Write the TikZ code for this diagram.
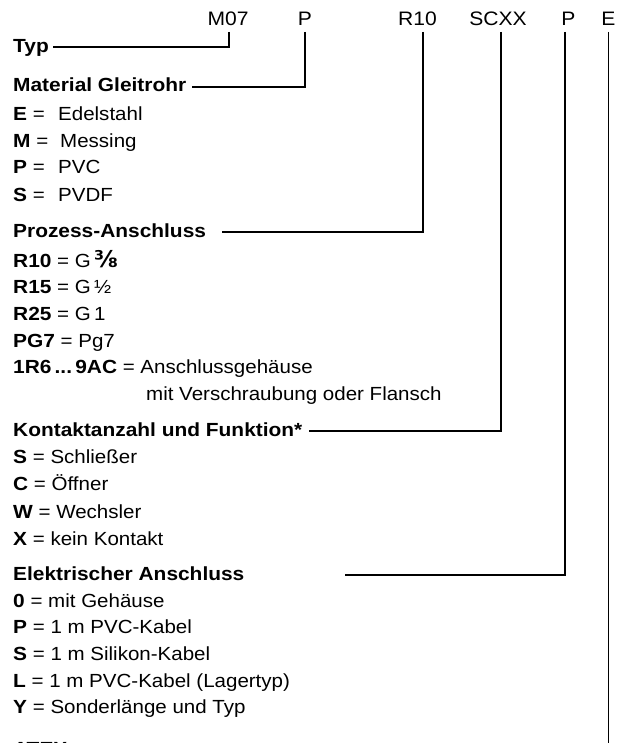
\documentclass[tikz,border=0pt]{standalone}
\usepackage{fontspec}
\setmainfont{Liberation Sans}[FakeStretch=1.08,BoldFeatures={FakeStretch=1.1}]
\newfontfamily\symfont{DejaVu Sans}
\begin{document}
\begin{tikzpicture}[x=1pt,y=1pt,
  lbl/.style={anchor=base west,inner sep=0pt,font=\fontsize{19}{23}\selectfont},
  head/.style={anchor=base west,inner sep=0pt,font=\fontsize{19}{23}\selectfont\bfseries},
  code/.style={anchor=base,inner sep=0pt,font=\fontsize{19.5}{23}\selectfont},
  conn/.style={line width=1.3pt}]
\useasboundingbox (0,0) rectangle (621,-743);
\clip (0,0) rectangle (621,-743);
% code
\node[code] (cM) at (228,-26) {M07};
\node[code] (cP) at (305,-26) {P};
\node[code] (cR) at (417.5,-26) {R10};
\node[code] (cS) at (498,-26) {SCXX};
\node[code] (cE) at (568.5,-26) {P};
\node[code] (cA) at (608.5,-26) {E};
% headings
\node[head] (typ) at (13,-53) {Typ};
\node[head] (mat) at (13,-92) {Material Gleitrohr};
\node[head] (pro) at (13,-237) {Prozess-Anschluss};
\node[head] (kon) at (13,-436) {Kontaktanzahl und Funktion*};
\node[head] (ele) at (13,-580) {Elektrischer Anschluss};
\node[head] (atex) at (13,-755) {ATEX};
% material
\node[lbl] (m1) at (13,-121) {\makebox[45pt][l]{\textbf{E} =}Edelstahl};
\node[lbl] (m2) at (13,-148) {\makebox[47pt][l]{\textbf{M} =}Messing};
\node[lbl] (m3) at (13,-174) {\makebox[45pt][l]{\textbf{P} =}PVC};
\node[lbl] (m4) at (13,-201) {\makebox[45pt][l]{\textbf{S} =}PVDF};
% prozess
\node[lbl] (p1) at (13,-267) {\textbf{R10} = G\,{\symfont\bfseries\fontsize{23}{23}\selectfont ⅜}};
\node[lbl] (p2) at (13,-293) {\textbf{R15} = G\,½};
\node[lbl] (p3) at (13,-320) {\textbf{R25} = G\,1};
\node[lbl] (p4) at (13,-347) {\textbf{PG7} = Pg7};
\node[lbl] (p5) at (13,-373) {\textbf{1R6\,...\,9AC} = Anschlussgehäuse};
\node[lbl] (p6) at (146,-400) {mit Verschraubung oder Flansch};
% kontakt
\node[lbl] (k1) at (13,-463) {\textbf{S} = Schließer};
\node[lbl] (k2) at (13,-490) {\textbf{C} = Öffner};
\node[lbl] (k3) at (13,-518) {\textbf{W} = Wechsler};
\node[lbl] (k4) at (13,-545) {\textbf{X} = kein Kontakt};
% elektrisch
\node[lbl] (e1) at (13,-607) {\textbf{0} = mit Gehäuse};
\node[lbl] (e2) at (13,-633) {\textbf{P} = 1 m PVC-Kabel};
\node[lbl] (e3) at (13,-660) {\textbf{S} = 1 m Silikon-Kabel};
\node[lbl] (e4) at (13,-687) {\textbf{L} = 1 m PVC-Kabel (Lagertyp)};
\node[lbl] (e5) at (13,-713) {\textbf{Y} = Sonderlänge und Typ};
% connectors
\draw[conn] ([xshift=1pt,yshift=-6pt]cM.base) |- ([xshift=4pt,yshift=6pt]typ.base east);
\draw[conn] ([yshift=-6pt]cP.base) |- ([xshift=6pt,yshift=5pt]mat.base east);
\draw[conn] ([xshift=5.5pt,yshift=-6pt]cR.base) |- ([xshift=16pt,yshift=5pt]pro.base east);
\draw[conn] ([xshift=3pt,yshift=-6pt]cS.base) |- ([xshift=6pt,yshift=5pt]kon.base east);
\draw[conn] ([xshift=-3.5pt,yshift=-6pt]cE.base) |- ([xshift=100pt,yshift=5pt]ele.base east);
\draw[conn] ([yshift=-6pt]cA.base) -- ([yshift=-6pt]cA.base |- atex.base);
\end{tikzpicture}
\end{document}
